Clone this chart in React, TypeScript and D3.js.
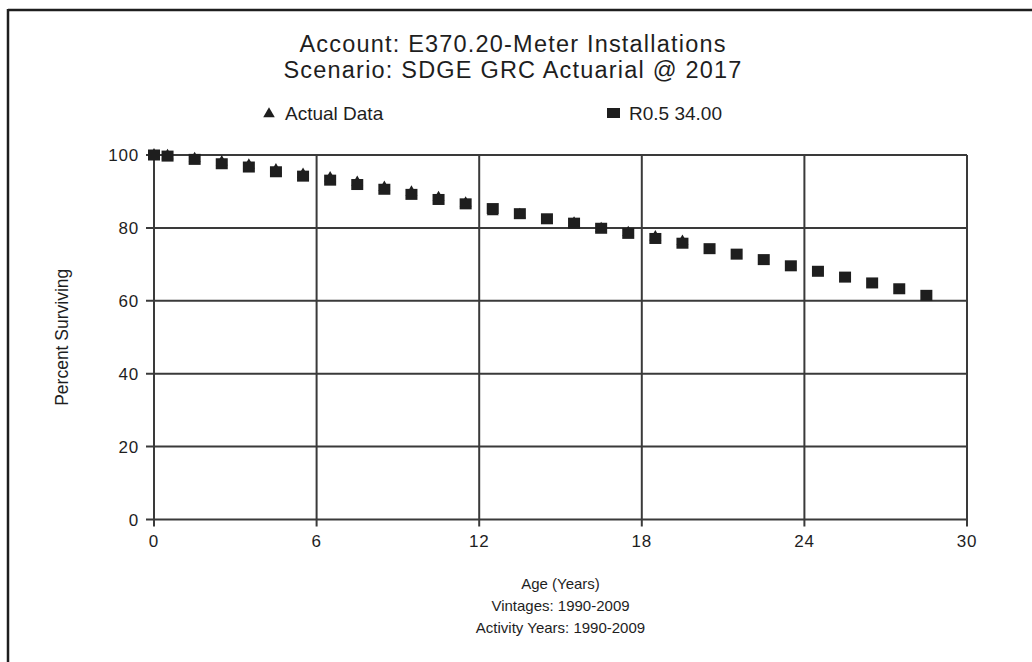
import * as d3 from 'd3'

const AGES = [0, 0.5, 1.5, 2.5, 3.5, 4.5, 5.5, 6.5, 7.5, 8.5, 9.5, 10.5, 11.5, 12.5, 13.5, 14.5, 15.5, 16.5, 17.5, 18.5, 19.5, 20.5, 21.5, 22.5, 23.5, 24.5, 25.5, 26.5, 27.5, 28.5]
// fitted R0.5 34.00 curve
const FITTED = [100, 99.7, 98.8, 97.6, 96.7, 95.4, 94.2, 93.1, 91.9, 90.6, 89.2, 87.8, 86.6, 85.3, 83.9, 82.5, 81.3, 79.9, 78.5, 77.1, 75.8, 74.3, 72.8, 71.3, 69.6, 68.1, 66.5, 64.9, 63.3, 61.5]
// observed (actual data), ages 0 .. 19.5
const ACTUAL = [100, 99.8, 99.0, 98.1, 97.2, 95.9, 94.7, 93.7, 92.5, 91.1, 89.8, 88.3, 86.8, 84.4, 83.6, 82.0, 81.3, 79.8, 78.7, 77.5, 76.3]

const X_TICKS = [0, 6, 12, 18, 24, 30]
const Y_TICKS = [0, 20, 40, 60, 80, 100]
const TITLE = ['Account: E370.20-Meter Installations', 'Scenario: SDGE GRC Actuarial @ 2017']
const X_LABELS = ['Age (Years)', 'Vintages: 1990-2009', 'Activity Years: 1990-2009']

const W = 1032
const H = 662
const FONT = "'Liberation Sans', Arial, sans-serif"
const INK = '#1e1e1e'
const GRID = '#3a3a3a'

export default function App() {
  const x = d3.scaleLinear().domain([0, 30]).range([154, 967])
  const y = d3.scaleLinear().domain([0, 100]).range([519.5, 155])
  const tri = d3.symbol().type(d3.symbolTriangle).size(62)()
  const legendTri = d3.symbol().type(d3.symbolTriangle).size(58)()
  const sq = 12

  return (
    <svg width={W} height={H} style={{ position: 'absolute', left: 0, top: 0, background: '#fff' }} fontFamily={FONT}>
      {/* cropped frame */}
      <line x1={8} x2={W} y1={10} y2={10} stroke={INK} strokeWidth={2.5} />
      <line x1={8} x2={8} y1={9} y2={H} stroke={INK} strokeWidth={2.5} />

      {TITLE.map((t, i) => (
        <text key={t} x={513} y={52 + i * 26} textAnchor="middle" fontSize={23.5} letterSpacing={1.2} fill={INK}>{t}</text>
      ))}

      {/* legend */}
      <path d={legendTri} transform="translate(269,114)" fill={INK} />
      <text x={285} y={120} fontSize={19} fill={INK}>Actual Data</text>
      <rect x={607} y={108} width={13} height={10} fill={INK} />
      <text x={629} y={120} fontSize={19} fill={INK}>R0.5 34.00</text>

      {/* grid */}
      {Y_TICKS.map((t) => (
        <g key={'y' + t}>
          <line x1={x(0) - 8} x2={x(30)} y1={y(t)} y2={y(t)} stroke={GRID} strokeWidth={2} />
          <text x={139} y={y(t)} dy="0.36em" textAnchor="end" fontSize={17} letterSpacing={0.8} fill={INK}>{t}</text>
        </g>
      ))}
      {X_TICKS.map((t) => (
        <g key={'x' + t}>
          <line x1={x(t)} x2={x(t)} y1={y(100)} y2={y(0) + 7} stroke={GRID} strokeWidth={2} />
          <text x={x(t)} y={547} textAnchor="middle" fontSize={17} letterSpacing={0.8} fill={INK}>{t}</text>
        </g>
      ))}

      <text transform={`translate(68,${(y(0) + y(100)) / 2}) rotate(-90)`} textAnchor="middle" fontSize={17.5} fill={INK}>Percent Surviving</text>
      {X_LABELS.map((t, i) => (
        <text key={t} x={(x(0) + x(30)) / 2} y={589 + i * 22} textAnchor="middle" fontSize={15} fill={INK}>{t}</text>
      ))}

      {ACTUAL.map((v, i) => (
        <path key={'a' + i} d={tri} transform={`translate(${x(AGES[i])},${y(v)})`} fill={INK} />
      ))}
      {FITTED.map((v, i) => (
        <rect key={'f' + i} x={x(AGES[i]) - sq / 2} y={y(v) - 5.5} width={sq} height={11} fill={INK} />
      ))}
    </svg>
  )
}
